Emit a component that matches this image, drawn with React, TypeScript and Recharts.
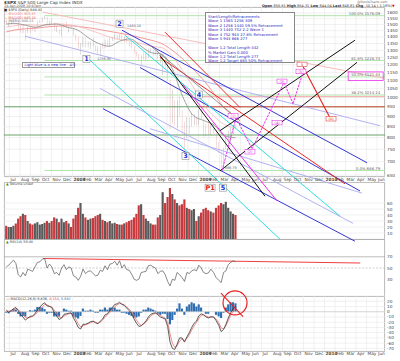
import React from 'react';
import {
  ComposedChart,
  Bar,
  Line,
  XAxis,
  YAxis,
  CartesianGrid,
  ReferenceLine,
  ReferenceDot,
  Cell,
} from 'recharts';

// weekly bars, first week ends 22-Jun-2007, one row of 12 weeks per line
const FIRST_WEEK = '2007-06-22';
const PREV_CLOSE = 1533;

const HIGHS = [
  1540, 1520, 1539, 1555, 1556, 1535, 1488, 1503, 1456, 1481, 1484, 1481,
  1489, 1530, 1539, 1561, 1576, 1564, 1535, 1552, 1520, 1493, 1460, 1488,
  1510, 1524, 1485, 1498, 1471, 1420, 1405, 1355, 1396, 1396, 1368, 1368,
  1389, 1336, 1331, 1331, 1358, 1380, 1380, 1395, 1399, 1422, 1416, 1426,
  1440, 1404, 1404, 1372, 1371, 1336, 1291, 1274, 1263, 1290, 1285, 1313,
  1313, 1300, 1303, 1304, 1274, 1265, 1255, 1214, 1106, 1044, 985, 985,
  1007, 934, 875, 896, 896, 918, 914, 897, 934, 943, 890, 865,
  877, 870, 875, 835, 780, 740, 758, 803, 832, 845, 857, 864,
];
const LOWS = [
  1500, 1484, 1503, 1517, 1524, 1458, 1433, 1429, 1370, 1430, 1432, 1449,
  1439, 1474, 1516, 1520, 1548, 1500, 1490, 1494, 1451, 1439, 1420, 1406,
  1467, 1467, 1435, 1470, 1411, 1370, 1313, 1270, 1322, 1320, 1321, 1310,
  1330, 1291, 1274, 1256, 1312, 1315, 1328, 1324, 1370, 1380, 1381, 1383,
  1375, 1364, 1356, 1329, 1316, 1278, 1256, 1228, 1200, 1234, 1233, 1247,
  1279, 1261, 1264, 1236, 1212, 1133, 1180, 1099, 840, 866, 857, 845,
  899, 818, 741, 799, 815, 851, 857, 857, 857, 888, 804, 805,
  814, 812, 818, 754, 735, 666, 672, 751, 764, 779, 814, 840,
];
const CLOSES = [
  1502, 1503, 1530, 1552, 1534, 1458, 1433, 1453, 1445, 1479, 1474, 1454,
  1484, 1525, 1527, 1557, 1561, 1500, 1535, 1509, 1453, 1458, 1440, 1481,
  1504, 1468, 1484, 1478, 1411, 1401, 1325, 1330, 1395, 1331, 1349, 1353,
  1331, 1294, 1288, 1330, 1316, 1370, 1333, 1390, 1398, 1414, 1389, 1426,
  1375, 1400, 1361, 1360, 1318, 1278, 1262, 1239, 1261, 1257, 1260, 1296,
  1298, 1293, 1283, 1242, 1252, 1255, 1213, 1099, 899, 940, 877, 968,
  930, 873, 800, 896, 876, 879, 887, 872, 932, 890, 850, 832,
  826, 869, 827, 770, 735, 683, 756, 768, 816, 843, 857, 849,
];
// average daily volume, 100M shares
const VOLUMES = [
  22, 20, 20, 22, 26, 34, 38, 42, 40, 30, 26, 24,
  26, 28, 24, 25, 27, 30, 27, 30, 36, 34, 28, 34,
  28, 30, 26, 20, 34, 40, 52, 60, 42, 36, 32, 34,
  35, 38, 40, 42, 32, 30, 28, 30, 26, 27, 25, 24,
  24, 26, 28, 30, 32, 36, 42, 56, 58, 40, 34, 30,
  26, 24, 24, 36, 40, 78, 60, 70, 85, 75, 66, 60,
  56, 58, 66, 52, 50, 48, 50, 30, 38, 44, 50, 52,
  48, 46, 44, 52, 56, 60, 58, 62, 52, 46, 42, 40,
];
const RSI = [
  52, 55, 60, 64, 58, 38, 34, 42, 36, 48, 46, 44,
  52, 60, 61, 66, 67, 50, 57, 52, 40, 42, 37, 50,
  56, 47, 52, 50, 36, 34, 28, 35, 48, 40, 44, 45,
  40, 36, 37, 46, 44, 54, 47, 57, 58, 62, 55, 63,
  50, 56, 47, 46, 39, 30, 28, 30, 42, 43, 44, 54,
  55, 52, 50, 40, 44, 45, 38, 26, 18, 30, 28, 42,
  38, 33, 26, 42, 40, 45, 47, 45, 55, 50, 42, 40,
  41, 48, 42, 33, 28, 24, 42, 45, 56, 60, 63, 61,
];
const MACD = [
  2, -1, 2, 6, 8, 2, -6, -10, -16, -12, -9, -8,
  -4, 4, 9, 14, 17, 11, 10, 8, -2, -8, -15, -12,
  -5, -4, -3, -2, -12, -20, -30, -33, -24, -24, -22, -19,
  -18, -21, -23, -18, -14, -6, -4, 3, 8, 14, 15, 18,
  14, 12, 7, 2, -4, -14, -22, -28, -27, -22, -18, -10,
  -5, -3, -2, -6, -10, -12, -14, -28, -58, -70, -72, -62,
  -50, -50, -58, -48, -40, -30, -22, -18, -8, -4, -6, -10,
  -12, -10, -10, -17, -26, -38, -34, -24, -12, -2, 6, 10,
];
const SIGNAL = [
  3, 1, 1, 3, 6, 4, -1, -6, -11, -12, -11, -9,
  -6, -1, 4, 9, 14, 13, 11, 9, 3, -3, -10, -12,
  -8, -6, -4, -3, -7, -14, -23, -29, -27, -25, -23, -21,
  -19, -20, -22, -20, -16, -10, -6, -1, 4, 10, 13, 16,
  15, 13, 9, 5, 0, -8, -16, -23, -26, -24, -20, -14,
  -8, -5, -3, -4, -7, -10, -12, -20, -42, -60, -68, -65,
  -56, -52, -55, -51, -44, -35, -27, -21, -13, -7, -6, -8,
  -10, -10, -10, -14, -21, -31, -33, -27, -17, -7, 1, 6,
];
const HIST = [
  -2, -3, 2, 5, 4, -4, -9, -8, -9, 0, 3, 2,
  4, 9, 9, 8, 5, -4, -2, -2, -9, -9, -9, 0,
  6, 4, 2, 2, -9, -11, -13, -8, 6, 2, 2, 4,
  2, -2, -2, 4, 4, 8, 4, 8, 8, 8, 4, 4,
  -2, -2, -4, -6, -8, -11, -11, -9, -2, 4, 4, 8,
  6, 4, 2, -4, -6, -4, -4, -14, -24, -16, -6, 6,
  16, 6, -6, 10, 14, 18, 16, 10, 14, 8, 0, -4,
  -4, 0, 0, -6, -9, -12, -2, 8, 14, 18, 18, 16,
];

// moving averages, read mid-month (months since 1-Jul-2007)
const MA_MONTHS = [-0.3, 0.5, 1.5, 2.5, 3.5, 4.5, 5.5, 6.5, 7.5, 8.5, 9.5, 10.5, 11.5, 12.5, 13.5, 14.5, 15.5, 16.5, 17.5, 18.5, 19.5, 20.5, 21.5];
const MA50 = [1505, 1510, 1495, 1478, 1500, 1505, 1478, 1455, 1395, 1350, 1330, 1368, 1385, 1332, 1283, 1272, 1175, 1005, 905, 880, 858, 808, 800];
const MA100 = [1480, 1490, 1500, 1495, 1495, 1505, 1500, 1485, 1460, 1430, 1400, 1380, 1370, 1350, 1330, 1320, 1260, 1160, 1060, 960, 900, 860, 845];
const MA200 = [1440, 1455, 1465, 1470, 1480, 1487, 1490, 1485, 1475, 1460, 1445, 1430, 1415, 1395, 1375, 1350, 1300, 1240, 1170, 1100, 1020, 940, 905];

const MONTH_LABELS = [
  'Jul', 'Aug', 'Sep', 'Oct', 'Nov', 'Dec', '2008', 'Feb', 'Mar', 'Apr', 'May', 'Jun',
  'Jul', 'Aug', 'Sep', 'Oct', 'Nov', 'Dec', '2009', 'Feb', 'Mar', 'Apr', 'May', 'Jun',
  'Jul', 'Aug', 'Sep', 'Oct', 'Nov', 'Dec', '2010', 'Feb', 'Mar', 'Apr', 'May', 'Jun',
];
const MONTH_TICKS = MONTH_LABELS.map((_, i) => i);
const PRICE_TICKS = [650, 700, 750, 800, 850, 900, 950, 1000, 1050, 1100, 1150, 1200, 1250, 1300, 1350, 1400, 1450, 1500, 1550, 1600];
const VOL_TICKS = [10, 20, 30, 40, 50, 60];
const RSI_TICKS = [30, 50, 70];
const MACD_TICKS = [20, 10, 0, -10, -20, -30, -40, -50, -60, -70];

// fibonacci retracement of 1576.09 -> 666.79, drawn from the Oct-2007 top
const FIB_START = 3.33;
const FIB_LEVELS = [1576.09, 1228.74, 1121.44, 1014.14, 666.79];
const FIB_NAMES = ['100.0%', '61.8%', '50.0%', '38.2%', '0.0%'];
const DARK_GREEN_LEVELS = [950, 812];
const RED_LEVELS = [1005, 950];
const RED_LEVEL_START = 18.1;

// hand drawn trend lines [month, price, month, price]
const BLUE_LINES = [[10.71, 1454, 34.05, 696], [12.43, 1182, 33.38, 595], [8.9, 940, 32.9, 450]];
const LAVENDER_LINES = [[1.48, 1406, 35.29, 855], [8.62, 1052, 32.71, 497], [13.38, 841, 33.57, 588]];
const CYAN_LINES = [[7.19, 1264, 25.76, 455], [11.0, 1414, 31.48, 517]];
const RED_LINES = [[14.33, 1250, 31.95, 619], [14.81, 1438, 21.95, 946]];
const BLACK_LINES = [[20.05, 832, 32.9, 1375], [20.05, 665, 33.1, 1216], [14.33, 1264, 24.33, 578]];
const GREY_LINES = [[13.38, 1337, 21.95, 879]];
const MAGENTA_LINES = [[16.52, 1075, 25.48, 563]];
const PINK_LINES = [[3.19, 1608, 35.76, 1112]];
const MAGENTA_PATH = [[20.24, 665], [21.57, 894], [23.1, 752], [26.14, 1087], [27.0, 967], [27.95, 1150]];
const RED_PATH = [[27.95, 1189], [30.52, 894]];

const WAVE_TAGS = [
  { t: '1', m: 7.33, p: 1240 },
  { t: '2', m: 10.48, p: 1508 },
  { t: '3', m: 16.76, p: 723 },
  { t: '4', m: 18.05, p: 1017 },
  { t: '5', m: 20.33, p: 606 },
];
const P1_TAG = { t: 'P1', m: 19.1, p: 606 };
const PRICE_TAGS = [
  { t: '1256.98', m: 8.33, p: 1230 },
  { t: '1440.24', m: 11.19, p: 1479 },
  { t: '666.79', m: 20.5, p: 672 },
];
const MAGENTA_TAGS = [
  { t: '(1)', m: 21.29, p: 904 },
  { t: '(2)', m: 22.9, p: 740 },
  { t: '(3)', m: 25.95, p: 1094 },
  { t: '(4)', m: 25.48, p: 870 },
  { t: '(5)', m: 27.76, p: 1156 },
];
const RED_TAGS = [
  { t: '5', m: 27.86, p: 1202 },
  { t: '(A)', m: 30.62, p: 889 },
];

// RSI divergence line and MACD "no" sign
const RSI_LINE = [3.2, 67, 33.4, 59];
const MACD_CIRCLE = { m: 21.48, v: 16.9 };
const MACD_SLASH = [20.14, 35.6, 22.24, -9.4];

const WAVE_NOTES = [
  'Start/Length/Retracements',
  'Wave 1  1565  1256  309',
  'Wave 2  1256  1440  59.5% Retracement',
  'Wave 3  1440  752  2.2 Wave 1',
  'Wave 4  752  943  27.8% Retracement',
  'Wave 5  943  666  277',
  '',
  'Wave 1,2 Total Length 442',
  '% Market Gain 0.000',
  'Wave 1,2 Total Length 277',
  'Wave 1,2 Target 885 50% Retracement',
];

const monthsFromJul07 = (t: number) => {
  const d = new Date(t);
  const y = d.getUTCFullYear();
  const mo = d.getUTCMonth();
  const dim = new Date(Date.UTC(y, mo + 1, 0)).getUTCDate();
  return (y - 2007) * 12 + mo - 6 + (d.getUTCDate() - 1) / dim;
};

const start = Date.parse(FIRST_WEEK + 'T00:00:00Z');
const rows = HIGHS.map((h, i) => ({
  m: monthsFromJul07(start + i * 7 * 86400000),
  range: [LOWS[i], h],
  up: CLOSES[i] >= (i === 0 ? PREV_CLOSE : CLOSES[i - 1]),
  vol: VOLUMES[i],
  rsi: RSI[i],
  macd: MACD[i],
  signal: SIGNAL[i],
  hist: HIST[i],
}));
const maRows = MA_MONTHS.map((m, i) => ({ m, ma50: MA50[i], ma100: MA100[i], ma200: MA200[i] }));

const X_DOMAIN = [-0.52, 35.76];
const FONT = 'DejaVu Sans';

const MonthTick = ({ x, y, payload }: any) => (
  <text x={x + 1} y={y + 4.2} fontSize={4.3} fill="#444" fontFamily={FONT}
    fontWeight={String(MONTH_LABELS[payload.value]).length === 4 ? 700 : 400}>
    {MONTH_LABELS[payload.value]}
  </text>
);
const ValueTick = ({ x, y, payload }: any) => (
  <text x={x + 2} y={y + 1.5} fontSize={4.2} fill="#444" fontFamily={FONT}>{payload.value}</text>
);

const WaveTag = ({ cx, cy, text, color }: any) => {
  const w = text.length > 1 ? 10 : 7;
  return (
    <g>
      <rect x={cx - w / 2} y={cy - 3.5} width={w} height={7} fill="#fff" stroke="#777" strokeWidth={0.5} />
      <text x={cx} y={cy + 2.4} textAnchor="middle" fontSize={6.5} fontWeight={700} fill={color} fontFamily={FONT}>{text}</text>
    </g>
  );
};
const SmallTag = ({ cx, cy, text, color }: any) => (
  <g>
    <rect x={cx - 5} y={cy - 2.3} width={10} height={4.6} fill="#fff" stroke={color} strokeWidth={0.5} />
    <text x={cx} y={cy + 1.3} textAnchor="middle" fontSize={3.6} fill={color} fontFamily={FONT}>{text}</text>
  </g>
);

const seg = (l: number[], key: string, stroke: string, width = 0.9, dash?: string) => (
  <ReferenceLine key={key} segment={[{ x: l[0], y: l[1] }, { x: l[2], y: l[3] }]} stroke={stroke}
    strokeWidth={width} strokeDasharray={dash} ifOverflow="visible" />
);

const axisX = (show: boolean) => (
  <XAxis dataKey="m" type="number" domain={X_DOMAIN} allowDataOverflow ticks={MONTH_TICKS} interval={0}
    axisLine={false} tickLine={false} tickSize={0} tickMargin={0}
    height={show ? 7 : 0} tick={show ? <MonthTick /> : false} />
);

const T = ({ x, y, size = 3.8, color = '#333', bold = false, children }: any) => (
  <div style={{ position: 'absolute', left: x, top: y, fontSize: size, lineHeight: 1, color, fontWeight: bold ? 700 : 400, whiteSpace: 'nowrap' }}>
    {children}
  </div>
);

const frame = (top: number, height: number): React.CSSProperties => ({
  position: 'absolute', left: 4, top, width: 381, height, border: '1px solid #b0b0b0', boxSizing: 'border-box',
});

export default function App() {
  return (
    <div style={{ position: 'absolute', left: 0, top: 0, width: 400, height: 361, background: '#fff', overflow: 'hidden', fontFamily: FONT }}>
      <div style={frame(7, 170)} />
      <div style={frame(182, 58)} />
      <div style={frame(239, 58)} />
      <div style={frame(296, 56)} />

      {/* volume */}
      <div style={{ position: 'absolute', left: 0, top: 182, zIndex: 1 }}>
        <ComposedChart width={400} height={57} data={rows} margin={{ top: 0, right: 0, bottom: 0, left: 4 }}>
          <CartesianGrid stroke="#e8e8e8" strokeWidth={0.6} />
          {axisX(false)}
          <YAxis orientation="right" domain={[0, 95]} allowDataOverflow ticks={VOL_TICKS} interval={0} width={15}
            axisLine={false} tickLine={false} tickSize={0} tickMargin={0} tick={<ValueTick />} />
          <Bar dataKey="vol" barSize={2.5} isAnimationActive={false}>
            {rows.map((r, i) => <Cell key={i} fill={r.up ? '#5a5a5a' : '#c8383c'} />)}
          </Bar>
        </ComposedChart>
      </div>

      {/* RSI */}
      <div style={{ position: 'absolute', left: 0, top: 240, zIndex: 1 }}>
        <ComposedChart width={400} height={56} data={rows} margin={{ top: 0, right: 0, bottom: 0, left: 4 }}>
          <CartesianGrid stroke="#e8e8e8" strokeWidth={0.6} horizontal={false} />
          {axisX(false)}
          <YAxis orientation="right" domain={[0, 100]} allowDataOverflow ticks={RSI_TICKS} interval={0} width={15}
            axisLine={false} tickLine={false} tickSize={0} tickMargin={0} tick={<ValueTick />} />
          <ReferenceLine y={70} stroke="#a0a0a0" strokeWidth={0.7} />
          <ReferenceLine y={50} stroke="#b0b0b0" strokeWidth={0.6} strokeDasharray="2 1.5" />
          {seg(RSI_LINE, 'rsi-div', '#f04040', 1.1)}
          <Line dataKey="rsi" stroke="#555" strokeWidth={0.7} dot={false} isAnimationActive={false} />
        </ComposedChart>
      </div>

      {/* MACD */}
      <div style={{ position: 'absolute', left: 0, top: 289, zIndex: 2 }}>
        <ComposedChart width={400} height={69} data={rows} margin={{ top: 7, right: 0, bottom: 0, left: 4 }}>
          <CartesianGrid stroke="#e8e8e8" strokeWidth={0.6} />
          {axisX(true)}
          <YAxis orientation="right" domain={[-75, 30]} allowDataOverflow ticks={MACD_TICKS} interval={0} width={15}
            axisLine={false} tickLine={false} tickSize={0} tickMargin={0} tick={<ValueTick />} />
          <ReferenceLine y={0} stroke="#c8c8c8" strokeWidth={0.6} />
          <Bar dataKey="hist" fill="#2f6fb0" barSize={2.5} isAnimationActive={false} />
          <Line dataKey="signal" stroke="#f07070" strokeWidth={0.8} dot={false} isAnimationActive={false} />
          <Line dataKey="macd" stroke="#333" strokeWidth={0.8} dot={false} isAnimationActive={false} />
          <ReferenceDot x={MACD_CIRCLE.m} y={MACD_CIRCLE.v} r={12} fill="none" stroke="#e82020" strokeWidth={1.2} ifOverflow="visible" />
          {seg(MACD_SLASH, 'slash', '#e82020', 1.1)}
        </ComposedChart>
      </div>

      {/* price panel, drawn last so the trend lines run over the lower panels */}
      <div style={{ position: 'absolute', left: 0, top: 0, zIndex: 3, pointerEvents: 'none' }}>
        <ComposedChart width={400} height={361} data={rows} margin={{ top: 7, right: 0, bottom: 177, left: 4 }}>
          <CartesianGrid stroke="#e6e6e6" strokeWidth={0.6} />
          {axisX(true)}
          <YAxis orientation="right" scale="log" domain={[643, 1654]} allowDataOverflow ticks={PRICE_TICKS} interval={0}
            width={15} axisLine={false} tickLine={false} tickSize={0} tickMargin={0} tick={<ValueTick />} />

          {DARK_GREEN_LEVELS.map((v, i) => seg([X_DOMAIN[0], v, X_DOMAIN[1], v], 'dg' + i, '#5a9a5a', 0.9))}
          {FIB_LEVELS.map((v, i) => seg([FIB_START, v, X_DOMAIN[1], v], 'fib' + i, '#a8e0a0', 0.9))}
          {RED_LEVELS.map((v, i) => seg([RED_LEVEL_START, v, X_DOMAIN[1], v], 'rl' + i, i === 0 ? '#f4a0a0' : '#f05050', 0.9))}
          {PINK_LINES.map((l, i) => seg(l, 'pk' + i, '#f6b4b4', 0.9))}

          <Line data={maRows} dataKey="ma200" type="monotone" stroke="#f08080" strokeWidth={0.8} dot={false} isAnimationActive={false} />
          <Line data={maRows} dataKey="ma100" type="monotone" stroke="#f4b8b8" strokeWidth={0.8} dot={false} isAnimationActive={false} />
          <Line data={maRows} dataKey="ma50" type="monotone" stroke="#8a8a8a" strokeWidth={0.8} dot={false} isAnimationActive={false} />

          <Bar dataKey="range" barSize={2.2} isAnimationActive={false}>
            {rows.map((r, i) => <Cell key={i} fill={r.up ? '#1a1a1a' : '#c81e1e'} />)}
          </Bar>

          {LAVENDER_LINES.map((l, i) => seg(l, 'lv' + i, '#a9a9f2', 0.9))}
          {BLUE_LINES.map((l, i) => seg(l, 'bl' + i, '#3535d8', 1))}
          {CYAN_LINES.map((l, i) => seg(l, 'cy' + i, '#30dede', 1))}
          {RED_LINES.map((l, i) => seg(l, 'rd' + i, '#ee2a2a', 1))}
          {GREY_LINES.map((l, i) => seg(l, 'gr' + i, '#777', 0.8))}
          {MAGENTA_LINES.map((l, i) => seg(l, 'mg' + i, '#ee30ee', 1))}
          {BLACK_LINES.map((l, i) => seg(l, 'bk' + i, '#111', 1))}
          {MAGENTA_PATH.slice(1).map((p, i) => seg([MAGENTA_PATH[i][0], MAGENTA_PATH[i][1], p[0], p[1]], 'mp' + i, '#ee30ee', 1, '2.5 1'))}
          {seg([RED_PATH[0][0], RED_PATH[0][1], RED_PATH[1][0], RED_PATH[1][1]], 'rp', '#e82020', 1.1)}

          {FIB_LEVELS.map((v, i) => (
            <ReferenceDot key={'fl' + i} x={35.3} y={v} r={0} ifOverflow="visible"
              shape={(p: any) => (
                <g>
                  {i === 2 && <rect x={p.cx - 32} y={p.cy - 5} width={35} height={8.5} fill="none" stroke="#ee30ee" strokeWidth={0.8} />}
                  <text x={p.cx} y={p.cy - 0.9} textAnchor="end" fontSize={3.8} fill="#666" fontFamily={FONT}>
                    {FIB_NAMES[i] + '  ' + v.toFixed(2)}
                  </text>
                </g>
              )} />
          ))}
          {PRICE_TAGS.map((t, i) => (
            <ReferenceDot key={'pt' + i} x={t.m} y={t.p} r={0} ifOverflow="visible"
              shape={(p: any) => <text x={p.cx} y={p.cy} fontSize={3.4} fill="#666" fontFamily={FONT}>{t.t}</text>} />
          ))}
          {MAGENTA_TAGS.map((t, i) => (
            <ReferenceDot key={'mt' + i} x={t.m} y={t.p} r={0} ifOverflow="visible"
              shape={(p: any) => <SmallTag {...p} text={t.t} color="#e020e0" />} />
          ))}
          {RED_TAGS.map((t, i) => (
            <ReferenceDot key={'rt' + i} x={t.m} y={t.p} r={0} ifOverflow="visible"
              shape={(p: any) => <SmallTag {...p} text={t.t} color="#e02020" />} />
          ))}
          {WAVE_TAGS.map((t, i) => (
            <ReferenceDot key={'wt' + i} x={t.m} y={t.p} r={0} ifOverflow="visible"
              shape={(p: any) => <WaveTag {...p} text={t.t} color="#2030d0" />} />
          ))}
          <ReferenceDot x={P1_TAG.m} y={P1_TAG.p} r={0} ifOverflow="visible"
            shape={(p: any) => <WaveTag {...p} text={P1_TAG.t} color="#e02020" />} />
        </ComposedChart>
      </div>

      {/* header and notes */}
      <div style={{ position: 'absolute', left: 0, top: 0, width: 400, height: 361, zIndex: 4, pointerEvents: 'none' }}>
        <T x={4} y={1} size={4.2}><b>$SPX</b> S&amp;P 500 Large Cap Index INDX</T>
        <T x={4} y={5.3} size={3.4} color="#555">14-Apr-2009 10:47am</T>
        <T x={4} y={9} size={3.4} color="#333">■ $SPX (Daily) 848.81</T>
        <T x={4} y={12.8} size={3.4} color="#f08080">— MA(200) 905.43</T>
        <T x={4} y={16.6} size={3.4} color="#e05050">— MA(100) 845.18</T>
        <T x={4} y={20.4} size={3.4} color="#777">— MA(50) 800.21</T>
        <T x={357} y={1.2} size={3.2} color="#666">@StockCharts.com</T>
        <T x={262} y={4.6} size={3.5} color="#333">
          <b>Open</b> 856.91 <b>High</b> 864.31 <b>Low</b> 844.04 <b>Last</b> 848.81 <b>Chg</b> -10.14 (-1.18%)<span style={{ color: '#d02020' }}>▼</span>
        </T>

        <div style={{ position: 'absolute', left: 205, top: 12, width: 90, height: 51, background: '#fff', border: '0.8px solid #888', boxSizing: 'border-box', padding: '2px 2px' }}>
          {WAVE_NOTES.map((s, i) => (
            <div key={i} style={{ fontSize: 3.8, lineHeight: '4.45px', height: 4.45, color: '#2525c0', whiteSpace: 'nowrap' }}>{s}</div>
          ))}
        </div>
        <div style={{ position: 'absolute', left: 22, top: 62, width: 53, height: 5.5, background: '#fff', border: '0.6px solid #999', boxSizing: 'border-box', fontSize: 3.6, lineHeight: '4.5px', color: '#2525c0', paddingLeft: 1.5, whiteSpace: 'nowrap' }}>
          Light blue is a new line - 4/5
        </div>

        <T x={6} y={183} size={3.4} color="#444"><span style={{ color: '#2a9a2a' }}>▲</span> Volume undef</T>
        <T x={6} y={240.5} size={3.4} color="#444"><span style={{ color: '#2a9a2a' }}>▲</span> RSI(14) 59.48</T>
        <T x={6} y={297.5} size={3.4} color="#333">
          — MACD(12,26,9) 9.836, <span style={{ color: '#e05050' }}>4.154</span>, <span style={{ color: '#2f6fb0' }}>5.682</span>
        </T>
      </div>
    </div>
  );
}
